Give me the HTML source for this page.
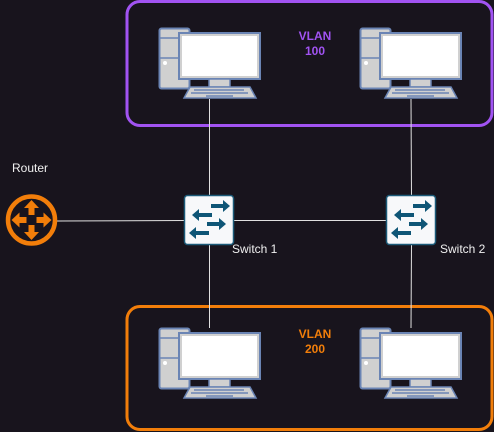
<!DOCTYPE html>
<html><head><style>
html,body{margin:0;padding:0;background:#18141d;width:494px;height:432px;overflow:hidden}
svg{display:block}
text{font-family:"Liberation Sans",sans-serif}
</style></head><body>
<svg width="494" height="432" viewBox="0 0 494 432" xmlns="http://www.w3.org/2000/svg">
<defs>
<g id="pc">
  <rect x="1.5" y="1.5" width="30" height="60" rx="2" fill="#d0d0d0" stroke="#6a84b4" stroke-width="2"/>
  <line x1="1.5" y1="11" x2="31.5" y2="11" stroke="#6a84b4" stroke-width="1.5"/>
  <line x1="1.5" y1="31" x2="31.5" y2="31" stroke="#6a84b4" stroke-width="1.5"/>
  <circle cx="7" cy="36" r="2" fill="#fff"/>
  <rect x="21" y="6" width="81" height="46" fill="#d0d0d0" stroke="#6a84b4" stroke-width="2"/>
  <rect x="24" y="9" width="75" height="40" fill="#fff"/>
  <rect x="51" y="52" width="21" height="8" fill="#d0d0d0" stroke="#6a84b4" stroke-width="1.5"/>
  <polygon points="32,60 92,60 98,71 26,71" fill="#d0d0d0" stroke="#6a84b4" stroke-width="1.5"/>
  <line x1="36" y1="63" x2="86" y2="63" stroke="#6a84b4" stroke-width="1.5"/>
  <line x1="33" y1="66" x2="90" y2="66" stroke="#6a84b4" stroke-width="1.5"/>
  <line x1="48" y1="69" x2="75" y2="69" stroke="#6a84b4" stroke-width="1.5"/>
</g>
<g id="sw">
  <rect x="0.5" y="0.5" width="49" height="49" rx="3" fill="#f7f8fa" stroke="#1b5a78" stroke-width="1.5"/>
  <g fill="#0e5576">
    <rect x="27" y="9" width="12" height="4"/><polygon points="39,5 46,11 39,17"/>
    <rect x="15" y="18" width="13" height="4"/><polygon points="15,14 8,20 15,26"/>
    <rect x="23" y="27" width="12" height="4"/><polygon points="35,23 42,29 35,35"/>
    <rect x="12" y="36" width="13" height="4"/><polygon points="12,32 5,38 12,44"/>
  </g>
</g>
</defs>
<rect x="127" y="1.5" width="365" height="124" rx="13" fill="none" stroke="#a153f2" stroke-width="3"/>
<rect x="127" y="306.5" width="365" height="123" rx="13" fill="none" stroke="#f27e0a" stroke-width="3"/>
<g stroke="#e0e0e0" stroke-width="1">
<line x1="209.5" y1="99" x2="209.5" y2="196"/>
<line x1="209.5" y1="245" x2="209.5" y2="328"/>
<line x1="411" y1="99" x2="411.5" y2="196"/>
<line x1="411.5" y1="245" x2="411" y2="328"/>
<line x1="57" y1="221" x2="185" y2="220.5"/>
<line x1="234" y1="220.5" x2="387" y2="220.5"/>
</g>
<use href="#pc" x="158" y="27"/>
<use href="#pc" x="359" y="27"/>
<use href="#pc" x="158" y="327"/>
<use href="#pc" x="359" y="327"/>
<use href="#sw" x="184" y="195"/>
<use href="#sw" x="386" y="195"/>
<circle cx="31.5" cy="220" r="23.5" fill="#18141d" stroke="#f27e0a" stroke-width="4.5"/>
<g fill="#f27e0a">
  <polygon points="31.5,200 24,208 28.5,208 28.5,215 34.5,215 34.5,208 39,208"/>
  <polygon points="31.5,240 24,232 28.5,232 28.5,225 34.5,225 34.5,232 39,232"/>
  <polygon points="11.5,220 19.5,212.5 19.5,217 26.5,217 26.5,223 19.5,223 19.5,227.5"/>
  <polygon points="51.5,220 43.5,212.5 43.5,217 36.5,217 36.5,223 43.5,223 43.5,227.5"/>
</g>
<text x="12" y="172" font-size="12" fill="#f0f0f0">Router</text>
<text x="232" y="253" font-size="12" fill="#f0f0f0">Switch 1</text>
<text x="440" y="253" font-size="12" fill="#f0f0f0">Switch 2</text>
<text x="315" y="40" font-size="12" font-weight="bold" fill="#a153f2" text-anchor="middle">VLAN</text>
<text x="315" y="55" font-size="12" font-weight="bold" fill="#a153f2" text-anchor="middle">100</text>
<text x="315" y="338" font-size="12" font-weight="bold" fill="#f27e0a" text-anchor="middle">VLAN</text>
<text x="315" y="353" font-size="12" font-weight="bold" fill="#f27e0a" text-anchor="middle">200</text>
</svg>
</body></html>
